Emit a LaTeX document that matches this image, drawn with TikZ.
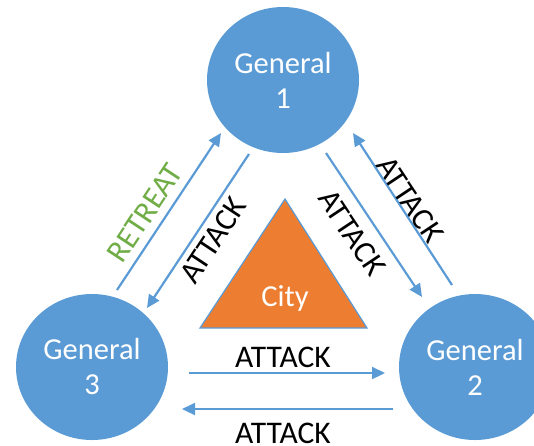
\documentclass[tikz,border=0pt]{standalone}
\usepackage{fontspec}
\setmainfont{Carlito}
\usetikzlibrary{shapes.geometric,arrows.meta}
\definecolor{genblue}{HTML}{5B9BD5}
\definecolor{cityorange}{HTML}{ED7D31}
\definecolor{retreatgreen}{HTML}{70AD47}
\tikzset{
  general/.style={ellipse, fill=genblue, draw=none, inner sep=0pt,
    minimum width=152pt, minimum height=146pt, text=white, align=center,
    font=\fontsize{30.5}{35}\selectfont},
  order/.style={draw=genblue, line width=2.2pt,
    -{Triangle[length=13pt,width=12pt]}},
  orderlabel/.style={font=\fontsize{31.5}{36}\selectfont, inner sep=0pt},
}
\begin{document}
\begin{tikzpicture}[x=1pt,y=-1pt]
  \useasboundingbox (0,0) rectangle (534,445);
  \clip (0,0) rectangle (534,445);

  % the three generals
  \node[general] (g1) at (283,80)  {General\\1};
  \node[general] (g2) at (475,367) {General\\2};
  \node[general] (g3) at (92,367)  {General\\3};

  % the city in the middle
  \coordinate (apex) at (285,199);
  \coordinate (baseL) at (200,328);
  \coordinate (baseR) at (367,328);
  \fill[cityorange] (apex) -- (baseL) -- (baseR) -- cycle;
  \draw[genblue, line width=1.2pt, line join=miter] (apex) -- (baseL) -- (baseR) -- cycle;
  \node[anchor=base, text=white, inner sep=0pt, font=\fontsize{30.5}{35}\selectfont] (city) at (285,306) {City};

  % message end points
  \coordinate (r3) at (117,290);  \coordinate (r1) at (221,133);
  \coordinate (a13s) at (249,154); \coordinate (a13e) at (147,308);
  \coordinate (a12s) at (326,153); \coordinate (a12e) at (422,297);
  \coordinate (a21s) at (452,285); \coordinate (a21e) at (353,133);
  \coordinate (a32s) at (189,373); \coordinate (a32e) at (385,373);
  \coordinate (a23s) at (393,409); \coordinate (a23e) at (182,409);

  % messages
  \draw[order] (r3) -- (r1);
  \draw[order] (a13s) -- (a13e);
  \draw[order] (a12s) -- (a12e);
  \draw[order] (a21s) -- (a21e);
  \draw[order] (a32s) -- (a32e);
  \draw[order] (a23s) -- (a23e);

  % message labels
  \node[orderlabel, text=retreatgreen, rotate=56.5] (lr) at (145,213) {RETREAT};
  \node[orderlabel, rotate=56.5] (l13) at (213,240) {ATTACK};
  \node[orderlabel, rotate=-56.3] (l12) at (352,233) {ATTACK};
  \node[orderlabel, rotate=-56.3] (l21) at (410,200) {ATTACK};
  \node[orderlabel] (l32) at (283,357) {ATTACK};
  \node[orderlabel] (l23) at (283,433) {ATTACK};
\end{tikzpicture}
\end{document}
